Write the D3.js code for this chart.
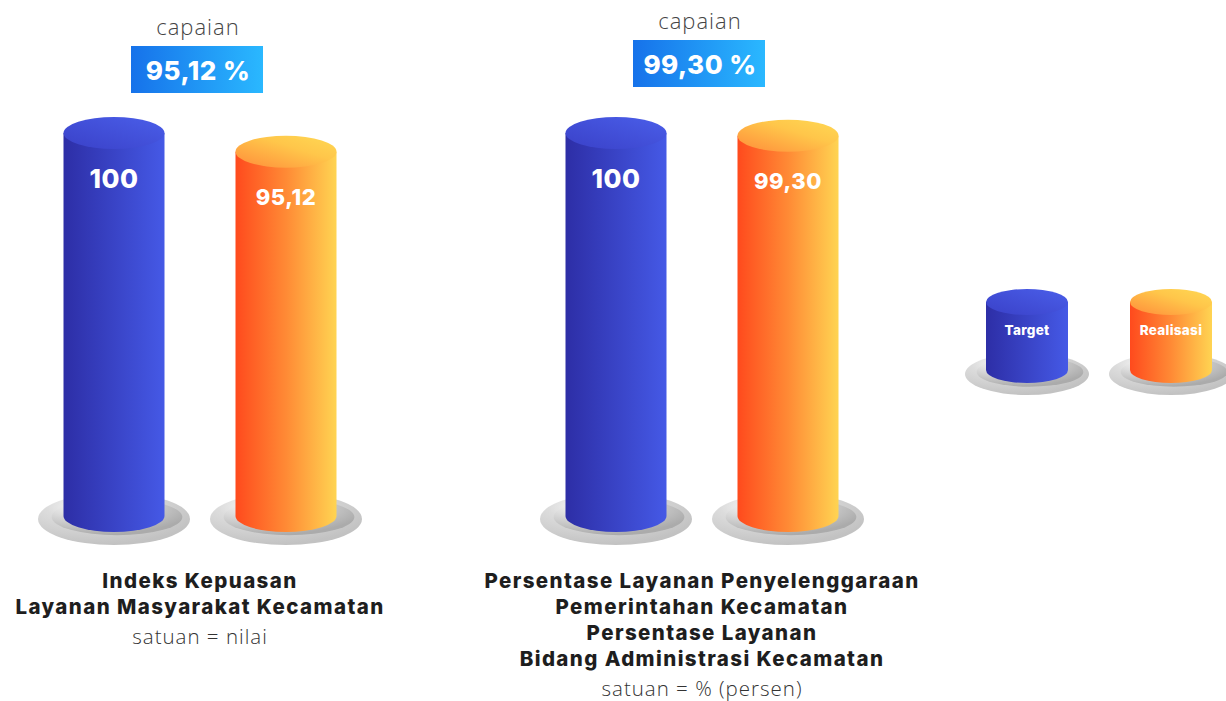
<!DOCTYPE html>
<html><head><meta charset="utf-8">
<script src="https://cdn.jsdelivr.net/npm/d3@7"></script>
<style>
html,body{margin:0;padding:0;background:#fff;}
svg{display:block;}
</style></head>
<body>
<svg id="chart" width="1226" height="701"></svg>
<script>
// ---- data ----
const categories = ["Indeks Kepuasan Layanan Masyarakat Kecamatan", "Persentase Layanan Penyelenggaraan Pemerintahan Kecamatan"];
const targetValues = [100, 100];
const realisasiValues = [95.12, 99.30];
const targetLabels = ["100", "100"];
const realisasiLabels = ["95,12", "99,30"];
const capaianLabels = ["95,12 %", "99,30 %"];
const titleLines = [
  ["Indeks Kepuasan", "Layanan Masyarakat Kecamatan"],
  ["Persentase Layanan Penyelenggaraan", "Pemerintahan Kecamatan", "Persentase Layanan", "Bidang Administrasi Kecamatan"]
];
const unitLabels = ["satuan = nilai", "satuan = % (persen)"];
const seriesNames = ["Target", "Realisasi"];

// ---- drawing ----
const svg = d3.select("#chart");
const defs = svg.append("defs");
const boldFont = "Inter, 'DejaVu Sans', sans-serif";
const lightFont = "'Open Sans', Lato, sans-serif";

function linGrad(id, stops, x1, y1, x2, y2) {
  const g = defs.append("linearGradient").attr("id", id)
    .attr("x1", x1).attr("y1", y1).attr("x2", x2).attr("y2", y2);
  stops.forEach(s => g.append("stop").attr("offset", s[0]).attr("stop-color", s[1]));
}
linGrad("blueSide", [["0%", "#2d2ea6"], ["100%", "#4559e6"]], "0%", "0%", "100%", "0%");
linGrad("blueTop", [["0%", "#3a41c8"], ["100%", "#4a5ee9"]], "0%", "100%", "100%", "0%");
linGrad("orangeSide", [["0%", "#ff4a1d"], ["50%", "#ff8a35"], ["100%", "#ffd452"]], "0%", "0%", "100%", "0%");
linGrad("orangeTop", [["0%", "#ff8c3a"], ["60%", "#ffc64a"], ["100%", "#ffd954"]], "0%", "100%", "100%", "0%");
linGrad("capBox", [["0%", "#1672ea"], ["100%", "#2ab8ff"]], "0%", "0%", "100%", "0%");
const pg = defs.append("radialGradient").attr("id", "plate").attr("cx", "35%").attr("cy", "25%").attr("r", "75%");
pg.append("stop").attr("offset", "0%").attr("stop-color", "#ffffff");
pg.append("stop").attr("offset", "40%").attr("stop-color", "#dcdcdc");
pg.append("stop").attr("offset", "100%").attr("stop-color", "#c2c2c2");
const pi = defs.append("radialGradient").attr("id", "plateInner").attr("cx", "30%").attr("cy", "20%").attr("r", "80%");
pi.append("stop").attr("offset", "0%").attr("stop-color", "#ffffff");
pi.append("stop").attr("offset", "50%").attr("stop-color", "#d4d4d4");
pi.append("stop").attr("offset", "100%").attr("stop-color", "#ababab");

const fills = [{side: "url(#blueSide)", top: "url(#blueTop)"}, {side: "url(#orangeSide)", top: "url(#orangeTop)"}];

const yBase = 516;
const y = d3.scaleLinear().domain([0, 100]).range([yBase, 133]);
const groupX = d3.scalePoint().domain(categories).range([200, 702]);
const inner = d3.scalePoint().domain(seriesNames).range([-86, 86]);

const rx = 50.5, ry = 16;

function cylinder(g, cx, top, bottom, rxx, ryy, f) {
  g.append("path")
    .attr("d", `M${cx - rxx},${top} L${cx - rxx},${bottom} A${rxx},${ryy} 0 0 0 ${cx + rxx},${bottom} L${cx + rxx},${top} Z`)
    .attr("fill", f.side);
  g.append("ellipse").attr("cx", cx).attr("cy", top).attr("rx", rxx).attr("ry", ryy).attr("fill", f.top);
}
function plate(g, cx, cy, prx, pry) {
  g.append("ellipse").attr("cx", cx).attr("cy", cy).attr("rx", prx).attr("ry", pry).attr("fill", "url(#plate)");
  g.append("ellipse").attr("cx", cx + 3).attr("cy", cy - 2).attr("rx", prx * 0.86).attr("ry", pry * 0.7).attr("fill", "url(#plateInner)");
}

const capTop = [46, 40];

categories.forEach((cat, i) => {
  const gx = groupX(cat);
  const g = svg.append("g");
  const vals = [targetValues[i], realisasiValues[i]];
  const labs = [targetLabels[i], realisasiLabels[i]];
  seriesNames.forEach((s, j) => {
    const cx = gx + inner(s);
    plate(g, cx, yBase + 3, 76, 26);
    cylinder(g, cx, y(vals[j]), yBase, rx, ry, fills[j]);
    g.append("text").attr("x", cx).attr("y", y(vals[j]) + 45)
      .attr("text-anchor", "middle").attr("dominant-baseline", "central")
      .attr("fill", "#fff").attr("font-family", boldFont).attr("letter-spacing", 0.5)
      .attr("font-weight", 800).attr("font-size", j === 0 ? 26 : 22)
      .text(labs[j]);
  });
  // capaian
  const bt = capTop[i];
  g.append("text").attr("x", gx - 2).attr("y", bt - 20)
    .attr("text-anchor", "middle").attr("dominant-baseline", "central")
    .attr("fill", "#444").attr("font-family", lightFont).attr("letter-spacing", 1)
    .attr("font-weight", 300).attr("font-size", 22).text("capaian");
  g.append("rect").attr("x", gx - 69).attr("y", bt).attr("width", 132).attr("height", 47).attr("fill", "url(#capBox)");
  g.append("text").attr("x", gx - 2).attr("y", bt + 24)
    .attr("text-anchor", "middle").attr("dominant-baseline", "central")
    .attr("fill", "#fff").attr("font-family", boldFont).attr("letter-spacing", 0.5)
    .attr("font-weight", 800).attr("font-size", 26).text(capaianLabels[i]);
  // titles
  const lines = titleLines[i];
  lines.forEach((l, k) => {
    g.append("text").attr("x", gx).attr("y", 580 + k * 26)
      .attr("text-anchor", "middle").attr("dominant-baseline", "central")
      .attr("fill", "#1e1e1e").attr("font-family", boldFont).attr("letter-spacing", 1.4)
      .attr("font-weight", 800).attr("font-size", 20.5).text(l);
  });
  g.append("text").attr("x", gx).attr("y", 580 + (lines.length - 1) * 26 + 30)
    .attr("text-anchor", "middle").attr("dominant-baseline", "central")
    .attr("fill", "#333").attr("font-family", lightFont).attr("letter-spacing", 1)
    .attr("font-weight", 300).attr("font-size", 20.5).text(unitLabels[i]);
});

// legend
const legX = d3.scalePoint().domain(seriesNames).range([1027, 1171]);
const lg = svg.append("g");
seriesNames.forEach((s, j) => {
  const cx = legX(s);
  plate(lg, cx, 374, 62, 21);
  cylinder(lg, cx, 302, 370, 41, 13, fills[j]);
  lg.append("text").attr("x", cx).attr("y", 330)
    .attr("text-anchor", "middle").attr("dominant-baseline", "central")
    .attr("fill", "#fff").attr("font-family", boldFont).attr("letter-spacing", 0.3)
    .attr("font-weight", 800).attr("font-size", 13.5).text(s);
});
</script>
</body></html>
